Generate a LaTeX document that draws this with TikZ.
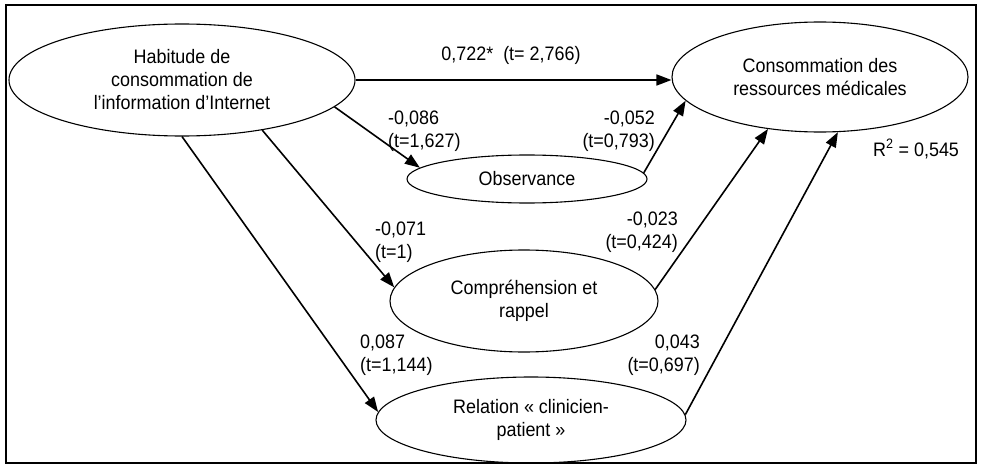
\documentclass[tikz,border=0pt]{standalone}
\usepackage{fontspec}
\setmainfont{Liberation Sans}[FakeStretch=0.92]
\usetikzlibrary{arrows.meta, shapes.geometric}

\begin{document}
\begin{tikzpicture}[
    x=1pt, y=-1pt,
    >={Triangle[length=15pt,width=11pt]},
    font=\fontsize{19.5}{23}\selectfont,
    construct/.style={ellipse, draw, line width=1.1pt, inner sep=0pt, align=center},
    effect/.style={->, line width=1.6pt},
    coef/.style={inner sep=0pt},
]

%--- Canvas (pixel units, y downwards) ---
\useasboundingbox (0,0) rectangle (982,468);
\draw[line width=1.2pt] (6,5) rectangle (976,463);

%============================================================
% Constructs
%============================================================
\node[construct, minimum width=346pt, minimum height=112pt] (habitude) at (182,80)
    {Habitude de\\consommation de\\l’information d’Internet};
\node[construct, minimum width=296pt, minimum height=110pt] (consommation) at (820,77)
    {Consommation des\\ressources médicales};
\node[construct, minimum width=240pt, minimum height=48pt] (observance) at (527,179)
    {Observance};
\node[construct, minimum width=268pt, minimum height=102pt] (comprehension) at (524,301)
    {Compréhension et\\rappel};
\node[construct, minimum width=310pt, minimum height=86pt] (relation) at (531,420)
    {Relation « clinicien-\\patient »};

%============================================================
% Paths
%============================================================
\draw[effect] (habitude.east) -- (habitude.east -| consommation.west);
\draw[effect] (habitude.-10) -- (observance.174);
\draw[effect] (habitude.-32) -- (comprehension.174);
\draw[effect] (habitude.south) -- (relation.177);
\draw[effect] (observance.3) -- (consommation.190);
\draw[effect] (comprehension.5) -- (consommation.-135);
\draw[effect] (relation.2) -- (consommation.-72);

%============================================================
% Coefficients
%============================================================
\node[coef] (cDirect) at (511,55) {0,722*~~(t= 2,766)};
\node[coef, anchor=west, align=left] (cObsIn) at (388,131) {-0,086\\(t=1,627)};
\node[coef, anchor=east, align=right] (cObsOut) at (655,131) {-0,052\\(t=0,793)};
\node[coef, anchor=west, align=left] (cCompIn) at (375,242) {-0,071\\(t=1)};
\node[coef, anchor=east, align=right] (cCompOut) at (678,232) {-0,023\\(t=0,424)};
\node[coef, anchor=west, align=left] (cRelIn) at (360,355) {0,087\\(t=1,144)};
\node[coef, anchor=east, align=right] (cRelOut) at (700,355) {0,043\\(t=0,697)};

% Explained variance
\node[coef, anchor=west] (rsq) at (873,149) {R\textsuperscript{2} = 0,545};

\end{tikzpicture}
\end{document}
